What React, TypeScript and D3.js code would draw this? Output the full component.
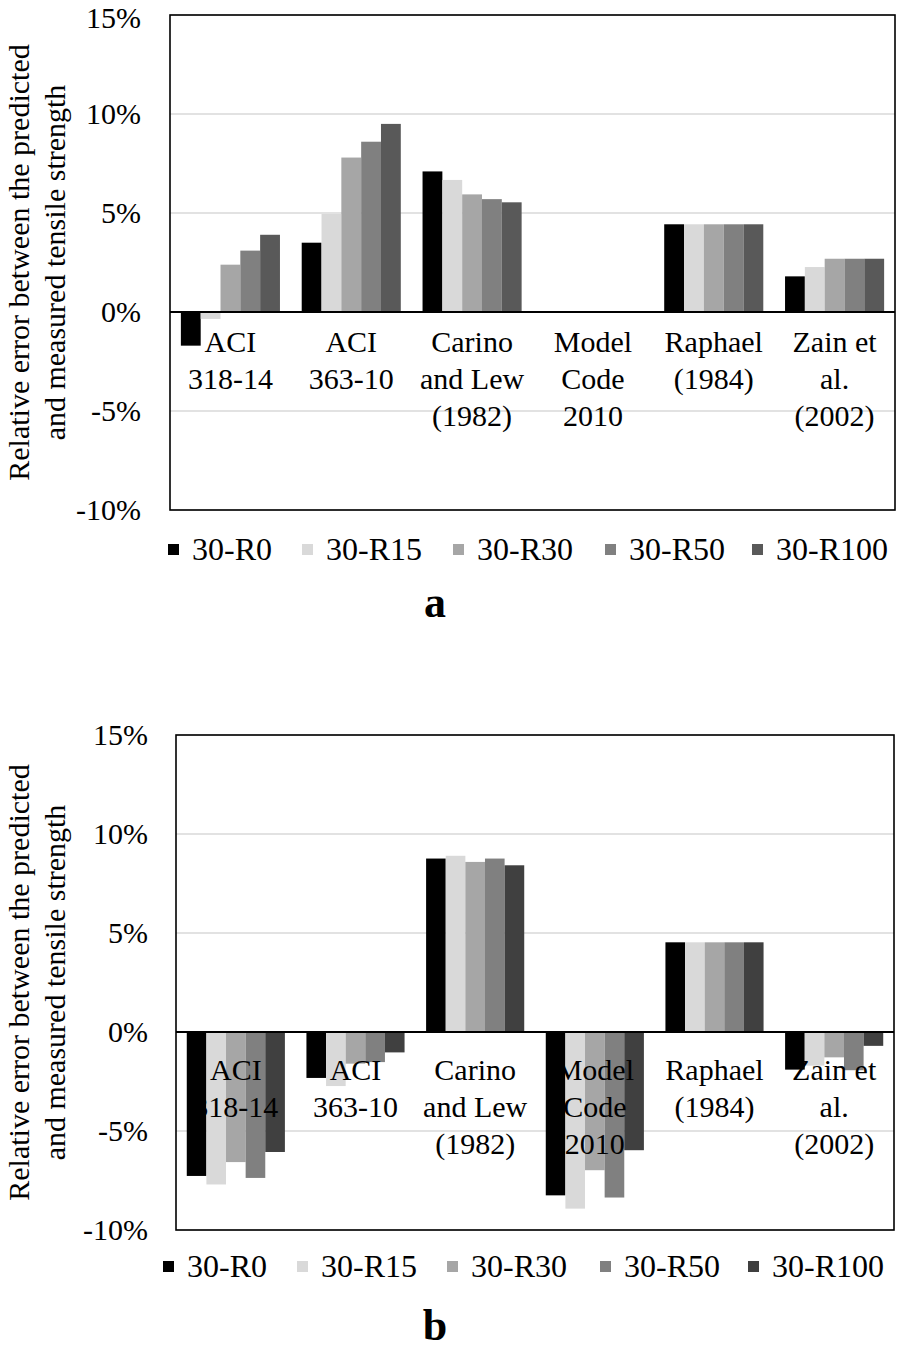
import React from "react";
import * as d3 from "d3";

const categories = ["ACI 318-14", "ACI 363-10", "Carino and Lew (1982)", "Model Code 2010", "Raphael (1984)", "Zain et al. (2002)"];
const categoryLines = [["ACI", "318-14"], ["ACI", "363-10"], ["Carino", "and Lew", "(1982)"], ["Model", "Code", "2010"], ["Raphael", "(1984)"], ["Zain et", "al.", "(2002)"]];
const seriesNames = ["30-R0", "30-R15", "30-R30", "30-R50", "30-R100"];
const yTicks = [15, 10, 5, 0, -5, -10];

// Panel a values (%)
const a_R0 = [-1.7, 3.5, 7.1, 0, 4.43, 1.8];
const a_R15 = [-0.35, 4.95, 6.67, 0, 4.43, 2.27];
const a_R30 = [2.39, 7.8, 5.94, 0, 4.43, 2.69];
const a_R50 = [3.1, 8.6, 5.7, 0, 4.43, 2.69];
const a_R100 = [3.9, 9.5, 5.54, 0, 4.43, 2.69];

// Panel b values (%)
const b_R0 = [-7.27, -2.32, 8.76, -8.25, 4.53, -1.9];
const b_R15 = [-7.7, -2.73, 8.9, -8.92, 4.53, -1.7];
const b_R30 = [-6.57, -1.6, 8.59, -6.98, 4.53, -1.28];
const b_R50 = [-7.37, -1.52, 8.76, -8.36, 4.53, -1.93];
const b_R100 = [-6.06, -1.03, 8.42, -5.97, 4.53, -0.7];

const colorsA = ["#000000", "#d9d9d9", "#a6a6a6", "#808080", "#595959"];
const colorsB = ["#000000", "#d9d9d9", "#a6a6a6", "#808080", "#404040"];

const FONT = "'Liberation Serif', 'Times New Roman', Times, serif";

type PanelCfg = {
  series: number[][];
  colors: string[];
  x0: number; x1: number; yTop: number; yBot: number;
  labelOffset: number;
  tickRight: number;
  legendY: number;
  legendX: number[];
  letter: string; letterY: number;
};

const panels: PanelCfg[] = [
  {
    series: [a_R0, a_R15, a_R30, a_R50, a_R100],
    colors: colorsA,
    x0: 170, x1: 895, yTop: 15, yBot: 510,
    labelOffset: 40, tickRight: 141,
    legendY: 549, legendX: [168, 302, 453, 605, 752],
    letter: "a", letterY: 617,
  },
  {
    series: [b_R0, b_R15, b_R30, b_R50, b_R100],
    colors: colorsB,
    x0: 176, x1: 894, yTop: 735, yBot: 1230,
    labelOffset: 48, tickRight: 148,
    legendY: 1266, legendX: [163, 297, 447, 600, 748],
    letter: "b", letterY: 1340,
  },
];

function Panel({ cfg }: { cfg: PanelCfg }) {
  const y = d3.scaleLinear().domain([-10, 15]).range([cfg.yBot, cfg.yTop]);
  const x = d3.scaleBand<string>().domain(categories).range([cfg.x0, cfg.x1]).paddingInner(0.18).paddingOuter(0.09);
  const xs = d3.scaleBand<string>().domain(seriesNames).range([0, x.bandwidth()]);
  const y0 = y(0);
  const midY = (cfg.yTop + cfg.yBot) / 2;
  return (
    <g>
      {yTicks.map((t) => (
        <line key={"g" + t} x1={cfg.x0} x2={cfg.x1} y1={y(t)} y2={y(t)} stroke="#d9d9d9" strokeWidth={1.5} />
      ))}
      {cfg.series.map((vals, si) =>
        vals.map((v, ci) => {
          const bx = (x(categories[ci]) ?? 0) + (xs(seriesNames[si]) ?? 0);
          const yv = y(v);
          return (
            <rect key={si + "-" + ci} x={bx} y={Math.min(yv, y0)} width={xs.bandwidth()} height={Math.abs(yv - y0)} fill={cfg.colors[si]} />
          );
        })
      )}
      <line x1={cfg.x0} x2={cfg.x1} y1={y0} y2={y0} stroke="#000" strokeWidth={2} />
      <rect x={cfg.x0} y={cfg.yTop} width={cfg.x1 - cfg.x0} height={cfg.yBot - cfg.yTop} fill="none" stroke="#000" strokeWidth={1.6} />
      {categoryLines.map((lines, ci) => (
        <text key={"c" + ci} x={(x(categories[ci]) ?? 0) + x.bandwidth() / 2} y={y0 + cfg.labelOffset} textAnchor="middle" fontSize={30} fontFamily={FONT} fill="#000">
          {lines.map((l, li) => (
            <tspan key={li} x={(x(categories[ci]) ?? 0) + x.bandwidth() / 2} dy={li === 0 ? 0 : 37}>{l}</tspan>
          ))}
        </text>
      ))}
      {yTicks.map((t) => (
        <text key={"t" + t} x={cfg.tickRight} y={Math.max(y(t) + 10, 28)} textAnchor="end" fontSize={30} fontFamily={FONT} fill="#000">{t + "%"}</text>
      ))}
      <text transform={`translate(29,${midY}) rotate(-90)`} textAnchor="middle" fontSize={30} fontFamily={FONT} fill="#000">Relative error between the predicted</text>
      <text transform={`translate(65,${midY}) rotate(-90)`} textAnchor="middle" fontSize={30} fontFamily={FONT} fill="#000">and measured tensile strength</text>
      {seriesNames.map((s, si) => (
        <g key={"l" + s}>
          <rect x={cfg.legendX[si]} y={cfg.legendY - 5} width={11} height={11} fill={cfg.colors[si]} />
          <text x={cfg.legendX[si] + 24} y={cfg.legendY + 10.5} fontSize={32} fontFamily={FONT} fill="#000">{s}</text>
        </g>
      ))}
      <text x={435} y={cfg.letterY} textAnchor="middle" fontSize={44} fontWeight="bold" fontFamily={FONT} fill="#000">{cfg.letter}</text>
    </g>
  );
}

export default function App() {
  return (
    <svg width={898} height={1357} style={{ position: "absolute", left: 0, top: 0, background: "#fff" }}>
      <rect x={0} y={0} width={898} height={1357} fill="#fff" />
      {panels.map((p, i) => (
        <Panel key={i} cfg={p} />
      ))}
    </svg>
  );
}
